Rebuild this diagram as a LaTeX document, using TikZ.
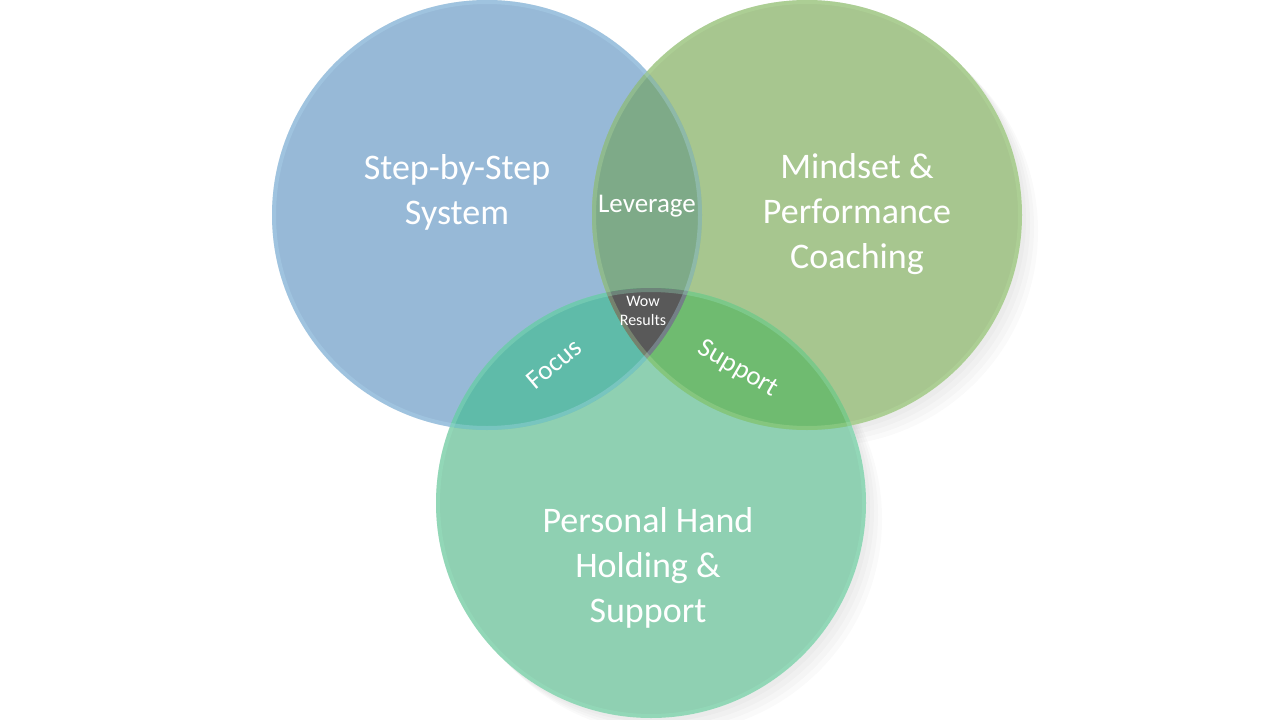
\documentclass[tikz,border=0pt]{standalone}
\usepackage{fontspec}
\setmainfont{Carlito}
\definecolor{cblue}{HTML}{97B9D7}
\definecolor{cgreen}{HTML}{A7C68F}
\definecolor{cteal}{HTML}{8FD0B2}
\definecolor{cbg}{HTML}{7EAA88}
\definecolor{cbt}{HTML}{5FBBA9}
\definecolor{cgt}{HTML}{6FBB70}
\definecolor{cwow}{HTML}{595959}
\definecolor{rblue}{HTML}{B3DDF2}
\definecolor{rgreen}{HTML}{B9E2A0}
\definecolor{rteal}{HTML}{9CE8C4}
\tikzset{
  biglabel/.style={text=white, align=center, font=\fontsize{36}{45}\selectfont},
  midlabel/.style={text=white, inner sep=1pt, font=\fontsize{27}{30}\selectfont},
  wowlabel/.style={text=white, align=center, inner sep=1pt, font=\fontsize{16}{19}\selectfont},
  rim/.style={line width=4pt, opacity=0.3}
}
\begin{document}
\begin{tikzpicture}[x=1pt,y=-1pt]
\useasboundingbox (0,0) rectangle (1280,720);
\fill[white] (0,0) rectangle (1280,720);
% soft shadows
\foreach \o in {4,8,12,16}{
  \fill[black, opacity=0.02] (807+\o,215+\o) circle (215);
  \fill[black, opacity=0.02] (651+\o,503+\o) circle (215);
}
\fill[white] (487,215) circle (215);
\fill[white] (807,215) circle (215);
\fill[white] (651,503) circle (215);
% base circles
\fill[cblue] (487,215) circle (215);
\fill[cgreen] (807,215) circle (215);
\fill[cteal] (651,503) circle (215);
% pairwise overlaps
\begin{scope}
  \clip (487,215) circle (215);
  \fill[cbg] (807,215) circle (215);
  \fill[cbt] (651,503) circle (215);
\end{scope}
\begin{scope}
  \clip (807,215) circle (215);
  \fill[cgt] (651,503) circle (215);
\end{scope}
% triple overlap
\begin{scope}
  \clip (487,215) circle (215);
  \clip (807,215) circle (215);
  \fill[cwow] (651,503) circle (215);
\end{scope}
% rims
\draw[rim, rblue] (487,215) circle (213);
\draw[rim, rgreen] (807,215) circle (213);
\draw[rim, rteal] (651,503) circle (213);
% labels
\node[biglabel] (sys) at (457,192) {Step-by-Step\\System};
\node[biglabel] (mind) at (857,214) {Mindset \&\\Performance\\Coaching};
\node[biglabel] (pers) at (648,568) {Personal Hand\\Holding \&\\Support};
\node[midlabel] (lev) at (647,206) {Leverage};
\node[midlabel, rotate=40] (foc) at (554,364) {Focus};
\node[midlabel, rotate=-30] (sup) at (738,369) {Support};
\node[wowlabel] (wow) at (643,311) {Wow\\Results};
\end{tikzpicture}
\end{document}
